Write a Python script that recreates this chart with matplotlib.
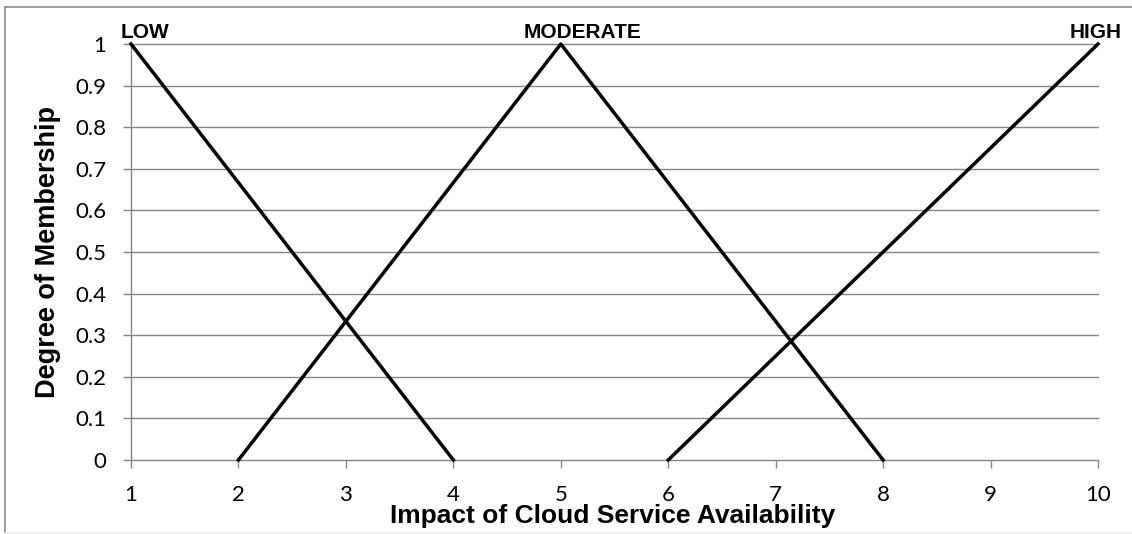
import matplotlib.pyplot as plt
from matplotlib.lines import Line2D

# membership functions (triangles)
low_x = [1, 4]
low_y = [1, 0]
mod_x = [2, 5, 8]
mod_y = [0, 1, 0]
high_x = [6, 10]
high_y = [0, 1]

labels = ['LOW', 'MODERATE', 'HIGH']
peaks_x = [1, 5, 10]
peaks_y = [1, 1, 1]

xticks = [1, 2, 3, 4, 5, 6, 7, 8, 9, 10]
yticks = [0, 0.1, 0.2, 0.3, 0.4, 0.5, 0.6, 0.7, 0.8, 0.9, 1]
yticklabels = ['0', '0.1', '0.2', '0.3', '0.4', '0.5', '0.6', '0.7', '0.8', '0.9', '1']

grid_col = '#868686'

fig = plt.figure(figsize=(11.32, 5.34), dpi=100)
ax = fig.add_axes([131/1132, 1-460/534, (1098-131)/1132, (460-44)/534])

for y in yticks[1:]:
    ax.axhline(y, color=grid_col, lw=1.0, zorder=1, clip_on=False)

ax.plot(low_x, low_y, color='black', lw=2.5, zorder=3, clip_on=False)
ax.plot(mod_x, mod_y, color='black', lw=2.5, zorder=3, clip_on=False)
ax.plot(high_x, high_y, color='black', lw=2.5, zorder=3, clip_on=False)

# data labels above the peaks (offsets in points)
offsets = [(-7.2, 4.3), (15.8, 4.3), (-2.0, 4.3)]
aligns = ['left', 'center', 'center']
for lab, px, py, off, ha in zip(labels, peaks_x, peaks_y, offsets, aligns):
    ax.annotate(lab, (px, py), xytext=off, textcoords='offset points',
                ha=ha, va='baseline', fontsize=15, fontweight='bold',
                family='Liberation Sans')

ax.set_xlim(1, 10)
ax.set_ylim(0, 1)
ax.set_xticks(xticks)
ax.set_yticks(yticks)
ax.set_yticklabels(yticklabels)

for s in ['top', 'right']:
    ax.spines[s].set_visible(False)
for s in ['left', 'bottom']:
    ax.spines[s].set_color(grid_col)
    ax.spines[s].set_linewidth(1.0)

ax.tick_params(axis='both', colors=grid_col, width=1.0, length=5.8, direction='out')
ax.tick_params(axis='x', pad=12.5)
ax.tick_params(axis='y', pad=11.8)
for t in ax.get_xticklabels() + ax.get_yticklabels():
    t.set_color('black')
    t.set_family('Lato')
    t.set_fontsize(16)

fig.text(613/1132, 1-523/534, 'Impact of Cloud Service Availability', ha='center', va='baseline',
         fontsize=19, fontweight='bold', family='Liberation Sans')
fig.text(48/1132, 1-252/534, 'Degree of Membership', ha='center', va='center', rotation=90,
         fontsize=19.5, fontweight='bold', family='Liberation Sans')

# chart frame
fig.lines.append(Line2D([5/1132, 5/1132], [0, 1-7/534], transform=fig.transFigure, color='#8c8c8c', lw=1.2))
fig.lines.append(Line2D([5/1132, 1], [1-7/534, 1-7/534], transform=fig.transFigure, color='#8c8c8c', lw=1.2))
fig.lines.append(Line2D([5/1132, 1], [1/534, 1/534], transform=fig.transFigure, color='#ececec', lw=1.2))

fig.savefig('out.png', dpi=100)
